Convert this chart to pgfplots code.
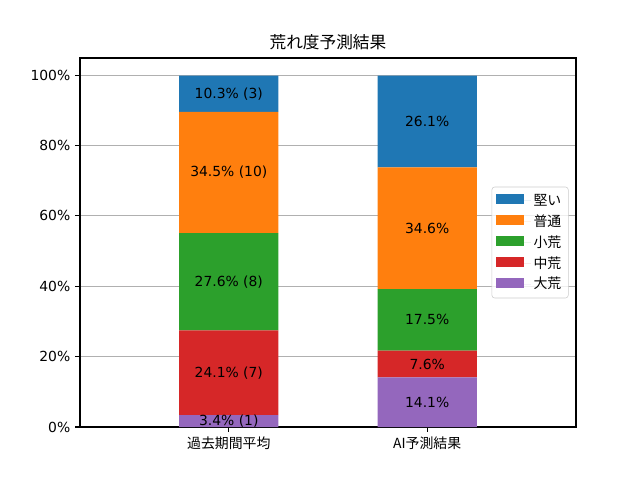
\documentclass[border=0pt]{standalone}
\usepackage{fontspec}
\setmainfont{DejaVu Sans}
\newfontfamily\cjk{Noto Sans CJK JP}
\usepackage{pgfplots}
\pgfplotsset{compat=1.18}
\usepackage{pgfplotstable}
\definecolor{tabblue}{HTML}{1F77B4}
\definecolor{taborange}{HTML}{FF7F0E}
\definecolor{tabgreen}{HTML}{2CA02C}
\definecolor{tabred}{HTML}{D62728}
\definecolor{tabpurple}{HTML}{9467BD}
\pgfplotstableread{
x dai chu sho futsu katai
0 3.4 24.1 27.6 34.5 10.3
1 14.1 7.6 17.5 34.6 26.1
}\data
\pgfplotstableread[col sep=comma]{
x,y,label
0,1.7,3.4\% (1)
0,15.45,24.1\% (7)
0,41.3,27.6\% (8)
0,72.35,34.5\% (10)
0,94.75,10.3\% (3)
1,7.05,14.1\%
1,17.9,7.6\%
1,30.45,17.5\%
1,56.5,34.6\%
1,86.85,26.1\%
}\labels
\pgfplotsset{
  common/.style={
    width=357.12pt, height=265.68pt, scale only axis,
    at={(0,0)}, anchor=south west,
    xmin=-0.75, xmax=1.75, ymin=0, ymax=104.9,
  }
}
\begin{document}
\begin{tikzpicture}
\path[use as bounding box] (-57.6pt,-38.16pt) rectangle (403.2pt,307.44pt);
\begin{axis}[common,
  ybar stacked, bar width=0.5,
  axis line style={line width=0.8pt},
  tick style={black, line width=0.8pt},
  major tick length=3.5pt,
  tick align=outside, tick pos=left,
  xtick={0,1}, xticklabels={{\cjk 過去期間平均},{\cjk AI予測結果}},
  ytick={0,20,40,60,80,100},
  yticklabel={\pgfmathprintnumber{\tick}\%},
  /pgf/number format/assume math mode=true,
  ymajorgrids, grid style={color={rgb,255:red,176;green,176;blue,176}, line width=0.8pt},
  title={荒れ度予測結果},
  title style={font=\fontsize{12}{14}\selectfont\cjk, yshift=-4pt},
  reverse legend,
  legend style={at={(0.985,0.5)}, anchor=east, draw={rgb,255:red,204;green,204;blue,204},
    rounded corners=2pt, fill=white, fill opacity=0.8, text opacity=1,
    font=\cjk, row sep=1.2pt, inner xsep=3pt, inner ysep=3pt},
  legend cell align=left,
  legend image code/.code={\fill[#1, fill opacity=1, sharp corners] (0pt,-2.5pt) rectangle (20pt,4.5pt); \path (0pt,0pt) -- (25pt,0pt);},
]
\addplot[fill=tabpurple, draw=none] table[x=x,y=dai]{\data};
\addlegendentry{大荒}
\addplot[fill=tabred, draw=none] table[x=x,y=chu]{\data};
\addlegendentry{中荒}
\addplot[fill=tabgreen, draw=none] table[x=x,y=sho]{\data};
\addlegendentry{小荒}
\addplot[fill=taborange, draw=none] table[x=x,y=futsu]{\data};
\addlegendentry{普通}
\addplot[fill=tabblue, draw=none] table[x=x,y=katai]{\data};
\addlegendentry{堅い}
\end{axis}
\begin{axis}[common, hide axis]
\addplot[draw=none, mark=none, nodes near coords, point meta=explicit symbolic,
  nodes near coords style={anchor=center, font=\normalsize, text=black}]
  table[x=x,y=y,meta=label]{\labels};
\end{axis}
\end{tikzpicture}
\end{document}
